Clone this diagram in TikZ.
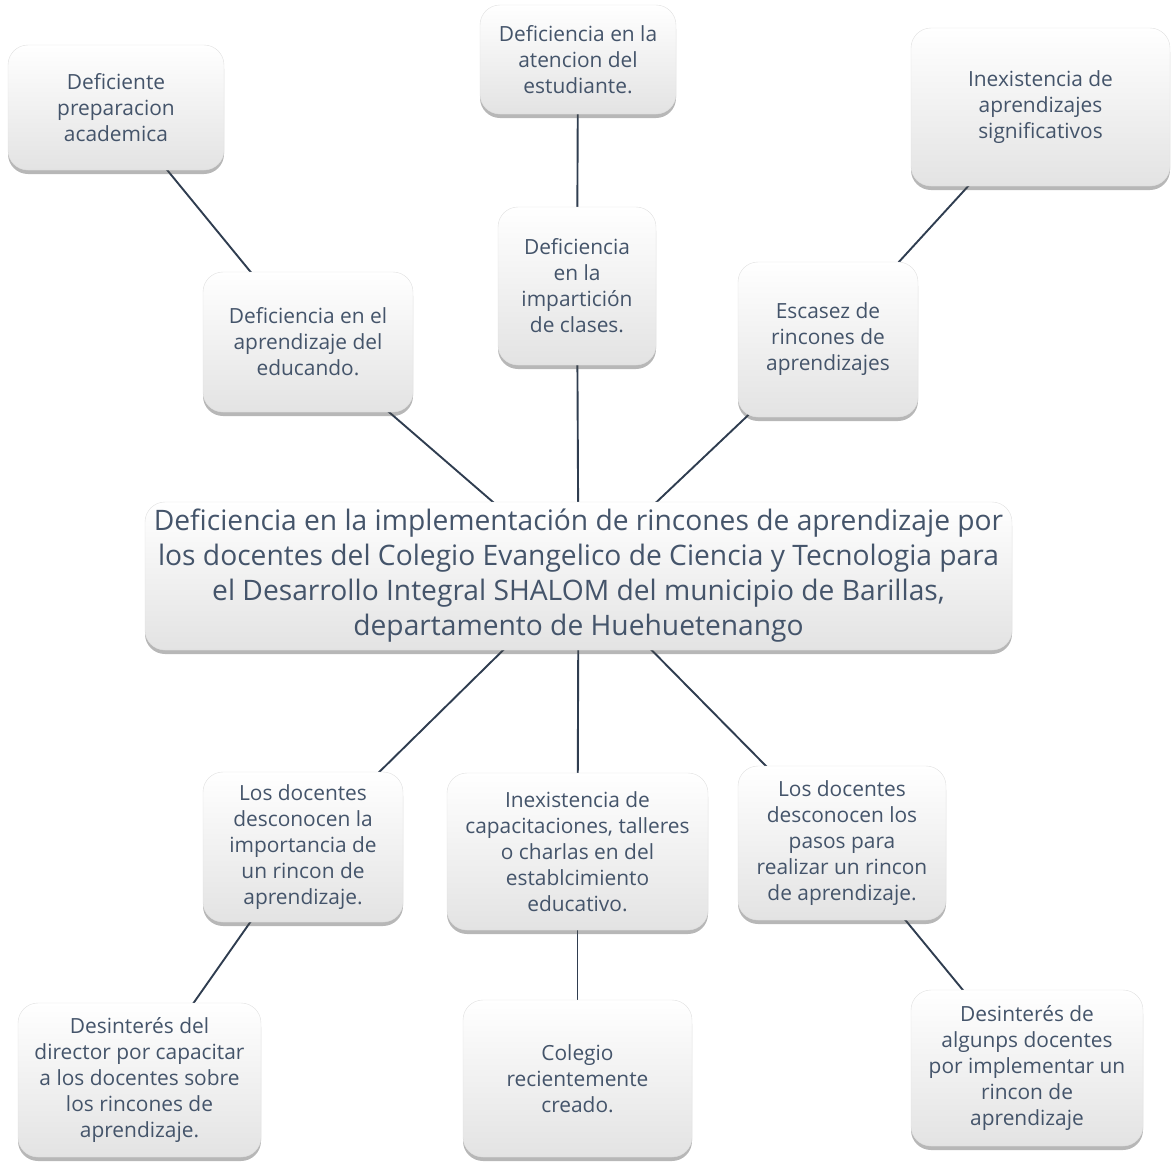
\documentclass[tikz,border=0pt]{standalone}
\usepackage{fontspec}
\setmainfont{Open Sans}
\usetikzlibrary{shadows,backgrounds}
\definecolor{txt}{HTML}{44546A}
\definecolor{ln}{HTML}{2F3D50}
\tikzset{
  box/.style={rectangle, rounded corners=20pt, top color=white, bottom color=black!11,
    draw=black!12, line width=0.4pt, text=txt, align=center, inner sep=2pt,
    font=\fontsize{20.9}{26}\selectfont,
    drop shadow={shadow xshift=0pt, shadow yshift=-4pt, opacity=0.4, fill=black!70}},
  bigbox/.style={box, font=\fontsize{28.2}{35}\selectfont},
  conn/.style={draw=ln, line width=1.9pt}
}
\begin{document}
\begin{tikzpicture}[x=1pt,y=-1pt]
\useasboundingbox (0,0) rectangle (1171,1163);
\node[box, minimum width=216pt, minimum height=125pt] (a1) at (116,107.5) {Deficiente\\preparacion\\academica};
\node[box, minimum width=196pt, minimum height=109pt] (a2) at (578,59.5) {Deficiencia en la\\atencion del\\estudiante.};
\node[box, minimum width=259pt, minimum height=158pt] (a3) at (1040.5,107) {Inexistencia de\\aprendizajes\\significativos};
\node[box, minimum width=210pt, minimum height=140pt] (b1) at (308,342) {Deficiencia en el\\aprendizaje del\\educando.};
\node[box, minimum width=158pt, minimum height=158pt] (b2) at (577,286) {Deficiencia\\en la\\impartición\\de clases.};
\node[box, minimum width=180pt, minimum height=155pt] (b3) at (828,339.5) {Escasez de\\rincones de\\aprendizajes};
\node[bigbox, minimum width=867pt, minimum height=148pt] (c) at (578.5,576) {Deficiencia en la implementación de rincones de aprendizaje por\\los docentes del Colegio Evangelico de Ciencia y Tecnologia para\\el Desarrollo Integral SHALOM del municipio de Barillas,\\departamento de Huehuetenango};
\node[box, minimum width=200pt, minimum height=150pt] (d1) at (303,847) {Los docentes\\desconocen la\\importancia de\\un rincon de\\aprendizaje.};
\node[box, minimum width=261pt, minimum height=157pt] (d2) at (577.5,851.5) {Inexistencia de\\capacitaciones, talleres\\o charlas en del\\establcimiento\\educativo.};
\node[box, minimum width=208pt, minimum height=154pt] (d3) at (842,843) {Los docentes\\desconocen los\\pasos para\\realizar un rincon\\de aprendizaje.};
\node[box, minimum width=243pt, minimum height=154pt] (e1) at (139.5,1080) {Desinterés del\\director por capacitar\\a los docentes sobre\\los rincones de\\aprendizaje.};
\node[box, minimum width=229pt, minimum height=157pt] (e2) at (577.5,1078.5) {Colegio\\recientemente\\creado.};
\node[box, minimum width=232pt, minimum height=156pt] (e3) at (1027,1068) {Desinterés de\\algunps docentes\\por implementar un\\rincon de\\aprendizaje};
\begin{pgfonlayer}{background}
\draw[conn] (a1.center) -- (b1.center);
\draw[conn] (a2.center) -- (b2.center);
\draw[conn] (a3.center) -- (b3.center);
\draw[conn] (b1.center) -- (c.center);
\draw[conn] (b2.center) -- (c.center);
\draw[conn] (b3.center) -- (c.center);
\draw[conn] (c.center) -- (d1.center);
\draw[conn] (c.center) -- (d2.center);
\draw[conn] (c.center) -- (d3.center);
\draw[conn] (d1.center) -- (e1.center);
\draw[conn] (d2.center) -- (e2.center);
\draw[conn] (d3.center) -- (e3.center);
\end{pgfonlayer}
\end{tikzpicture}
\end{document}
